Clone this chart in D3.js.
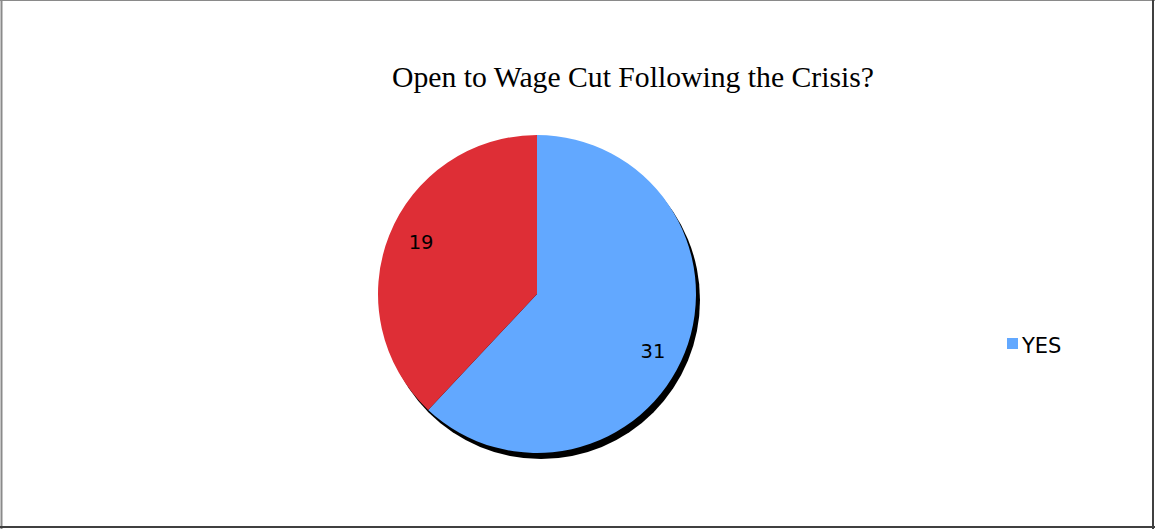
<!DOCTYPE html>
<html>
<head>
<meta charset="utf-8">
<script src="https://cdn.jsdelivr.net/npm/d3@7"></script>
<style>
  html, body { margin: 0; padding: 0; background: #fff; }
  svg { display: block; }
</style>
</head>
<body>
<svg id="chart" width="1155" height="529"></svg>
<script>
// Survey answers
const categories = ["YES", "NO"];
const values = [31, 19];
const colors = ["#62A8FF", "#DE2E36"];
const legendItems = ["YES"];
const title = "Open to Wage Cut Following the Crisis?";

const svg = d3.select("#chart");
const W = 1155, H = 529;

// frame
svg.append("line").attr("x1", 1.5).attr("y1", 0).attr("x2", 1.5).attr("y2", H)
  .attr("stroke", "#8a8a8a").attr("stroke-width", 2);
svg.append("line").attr("x1", 0).attr("y1", 0.5).attr("x2", W).attr("y2", 0.5)
  .attr("stroke", "#8a8a8a").attr("stroke-width", 1);
svg.append("line").attr("x1", W - 2).attr("y1", 0).attr("x2", W - 2).attr("y2", H)
  .attr("stroke", "#404040").attr("stroke-width", 2);
svg.append("line").attr("x1", 0).attr("y1", H - 2).attr("x2", W).attr("y2", H - 2)
  .attr("stroke", "#404040").attr("stroke-width", 2);

// title
svg.append("text")
  .attr("x", 633).attr("y", 87)
  .attr("text-anchor", "middle")
  .attr("font-family", "'Liberation Serif', 'Times New Roman', serif")
  .attr("font-size", 29.7)
  .attr("fill", "#000")
  .text(title);

const cx = 537, cy = 294, r = 159;

const pie = d3.pie().sort(null).value(d => d.v);
const data = pie(categories.map((c, i) => ({ c, v: values[i], col: colors[i] })));
const arc = d3.arc().innerRadius(0).outerRadius(r);
const labelR = 128, labelTurn = 0.061;

const g = svg.append("g").attr("transform", `translate(${cx},${cy})`);

// drop shadow
g.append("circle")
  .attr("cx", 4).attr("cy", 6).attr("r", r)
  .attr("fill", "#000");

g.selectAll("path.slice")
  .data(data)
  .join("path")
  .attr("class", "slice")
  .attr("d", arc)
  .attr("fill", d => d.data.col);

// value labels, placed a little past each slice's mid-angle
g.selectAll("text.val")
  .data(data)
  .join("text")
  .attr("class", "val")
  .attr("transform", d => {
    const a = (d.startAngle + d.endAngle) / 2 + labelTurn;
    return `translate(${labelR * Math.sin(a)},${-labelR * Math.cos(a)})`;
  })
  .attr("text-anchor", "middle")
  .attr("dy", "0.5em")
  .attr("font-family", "'DejaVu Sans', Verdana, sans-serif")
  .attr("font-size", 19.5)
  .attr("fill", "#000")
  .text(d => d.data.v);

// legend
const lg = svg.append("g").attr("transform", "translate(1007,338)");
legendItems.forEach((name, i) => {
  const idx = categories.indexOf(name);
  lg.append("rect").attr("x", 0).attr("y", i * 24).attr("width", 11).attr("height", 11)
    .attr("fill", colors[idx]);
  lg.append("text").attr("x", 15).attr("y", i * 24 + 15)
    .attr("font-family", "'DejaVu Sans', Verdana, sans-serif")
    .attr("font-size", 21)
    .attr("fill", "#000")
    .text(name);
});
</script>
</body>
</html>
